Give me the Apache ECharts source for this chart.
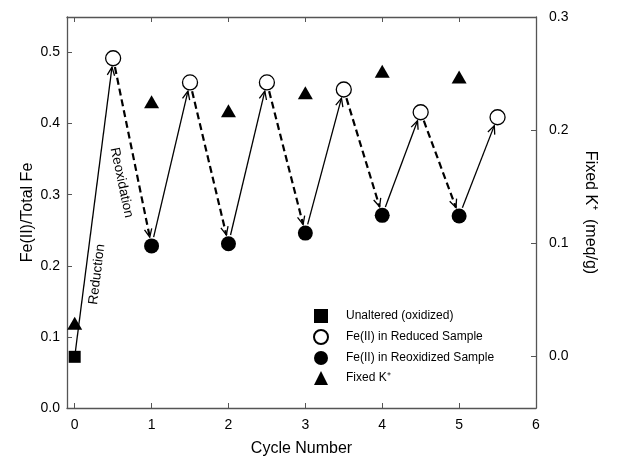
<!DOCTYPE html>
<html>
<head>
<meta charset="utf-8">
<title>Fe(II) cycles</title>
<script src="https://cdn.jsdelivr.net/npm/echarts@6/dist/echarts.min.js"></script>
<style>
  html, body { margin: 0; padding: 0; background: #fff; }
  #main { width: 617px; height: 462px; }
</style>
</head>
<body>
<div id="main"></div>
<script type="text/javascript">
// data
var unalteredX = [0];
var unalteredY = [0.072];
var reducedX = [0.5, 1.5, 2.5, 3.5, 4.5, 5.5];
var reducedY = [0.492, 0.458, 0.458, 0.448, 0.416, 0.409];
var reoxX = [1, 2, 3, 4, 5];
var reoxY = [0.228, 0.231, 0.246, 0.271, 0.270];
var fixedKX = [0, 1, 2, 3, 4, 5];
var fixedKY = [0.029, 0.225, 0.217, 0.233, 0.252, 0.247];

var xTicks = [0, 1, 2, 3, 4, 5, 6];
var leftTicks = [0, 0.1, 0.2, 0.3, 0.4, 0.5];
var rightTicks = [0, 0.1, 0.2, 0.3];

var noteText = ['Reduction', 'Reoxidation'];
var noteAt = [[0.29, 0.188, 83], [0.61, 0.317, -78]];

var FONT = 'Liberation Sans, Arial, sans-serif';
var AXIS_COLOR = '#555';

function pairs(xs, ys) {
    var out = [];
    for (var i = 0; i < xs.length; i++) out.push([xs[i], ys[i]]);
    return out;
}

// arrows: [x1, y1, x2, y2, dashed, startGap]
function buildArrows() {
    var a = [];
    a.push([unalteredX[0], unalteredY[0], reducedX[0], reducedY[0], 0, 0]);
    for (var i = 0; i < reoxX.length; i++) {
        a.push([reducedX[i], reducedY[i], reoxX[i], reoxY[i], 1, 9]);
        a.push([reoxX[i], reoxY[i], reducedX[i + 1], reducedY[i + 1], 0, 9]);
    }
    return a;
}

function renderArrow(params, api) {
    var p1 = api.coord([api.value(0), api.value(1)]);
    var p2 = api.coord([api.value(2), api.value(3)]);
    var dashed = api.value(4) === 1;
    var gap0 = api.value(5);
    var dx = p2[0] - p1[0], dy = p2[1] - p1[1];
    var len = Math.sqrt(dx * dx + dy * dy);
    var ux = dx / len, uy = dy / len;
    var sx = p1[0] + ux * gap0, sy = p1[1] + uy * gap0;
    var ex = p2[0] - ux * 9, ey = p2[1] - uy * 9;
    var head = 9, ang = 0.42;
    var ca = Math.cos(ang), sa = Math.sin(ang);
    var h1 = [ex - head * (ux * ca - uy * sa), ey - head * (uy * ca + ux * sa)];
    var h2 = [ex - head * (ux * ca + uy * sa), ey - head * (uy * ca - ux * sa)];
    return {
        type: 'group',
        children: [{
            type: 'line',
            shape: { x1: sx, y1: sy, x2: ex, y2: ey },
            style: { stroke: '#000', lineWidth: dashed ? 2.2 : 1.3, lineDash: dashed ? [7, 4] : null }
        }, {
            type: 'polyline',
            shape: { points: [h1, [ex, ey], h2] },
            style: { stroke: '#000', lineWidth: 1.3, fill: null }
        }]
    };
}

function renderNote(params, api) {
    var p = api.coord([api.value(0), api.value(1)]);
    return {
        type: 'text',
        x: p[0], y: p[1],
        rotation: api.value(2) * Math.PI / 180,
        style: {
            text: noteText[params.dataIndex],
            fontFamily: FONT, fontSize: 13.5, fill: '#000',
            align: 'center', verticalAlign: 'middle'
        }
    };
}

var myChart = echarts.init(document.getElementById('main'));
var option = {
    animation: false,
    backgroundColor: '#fff',
    textStyle: { fontFamily: FONT, color: '#000' },
    grid: { left: 67, right: 81, top: 17, bottom: 54, containLabel: false },
    legend: {
        orient: 'vertical',
        left: 308, top: 304,
        itemWidth: 14, itemHeight: 14, itemGap: 6,
        textStyle: { fontFamily: FONT, fontSize: 12, color: '#000', padding: [0, 0, 0, 13] },
        data: [
            { name: 'Unaltered (oxidized)', icon: 'rect' },
            { name: 'Fe(II) in Reduced Sample', icon: 'circle' },
            { name: 'Fe(II) in Reoxidized Sample', icon: 'circle' },
            { name: 'Fixed K\u207A', icon: 'triangle' }
        ]
    },
    xAxis: [{
        type: 'value', min: -0.1, max: 6, position: 'bottom',
        name: 'Cycle Number', nameLocation: 'middle', nameGap: 33,
        nameTextStyle: { fontFamily: FONT, fontSize: 16, color: '#000' },
        axisLine: { onZero: false, lineStyle: { color: AXIS_COLOR, width: 1.3 } },
        axisTick: { inside: true, length: 5, customValues: xTicks, lineStyle: { color: AXIS_COLOR } },
        axisLabel: { customValues: xTicks, margin: 10, fontSize: 14, color: '#000', fontFamily: FONT },
        splitLine: { show: false }
    }, {
        type: 'value', min: -0.1, max: 6, position: 'top',
        axisLine: { onZero: false, lineStyle: { color: AXIS_COLOR, width: 1.3 } },
        axisTick: { inside: true, length: 5, customValues: xTicks, lineStyle: { color: AXIS_COLOR } },
        axisLabel: { show: false },
        splitLine: { show: false }
    }],
    yAxis: [{
        type: 'value', min: 0, max: 0.55, position: 'left',
        name: 'Fe(II)/Total Fe', nameLocation: 'middle', nameGap: 31, nameRotate: 90,
        nameMoveOverlap: false,
        nameTextStyle: { fontFamily: FONT, fontSize: 16, color: '#000' },
        axisLine: { show: true, onZero: false, lineStyle: { color: AXIS_COLOR, width: 1.3 } },
        axisTick: { show: true, inside: true, length: 5, customValues: leftTicks, lineStyle: { color: AXIS_COLOR } },
        axisLabel: { customValues: leftTicks, margin: 7, fontSize: 14, color: '#000', fontFamily: FONT,
            formatter: function (v) { return v.toFixed(1); } },
        splitLine: { show: false }
    }, {
        type: 'value', min: -0.046, max: 0.3, position: 'right',
        name: 'Fixed K\u207A  (meq/g)', nameLocation: 'middle', nameGap: 46, nameRotate: -90,
        nameTextStyle: { fontFamily: FONT, fontSize: 16, color: '#000' },
        axisLine: { show: true, onZero: false, lineStyle: { color: AXIS_COLOR, width: 1.3 } },
        axisTick: { show: true, inside: true, length: 5, customValues: rightTicks, lineStyle: { color: AXIS_COLOR } },
        axisLabel: { customValues: rightTicks, margin: 13, fontSize: 14, color: '#000', fontFamily: FONT,
            formatter: function (v) { return v.toFixed(1); } },
        splitLine: { show: false }
    }],
    series: [{
        type: 'custom', name: 'arrows', silent: true, z: 1,
        renderItem: renderArrow,
        encode: { x: [0, 2], y: [1, 3] },
        data: buildArrows()
    }, {
        type: 'custom', name: 'notes', silent: true, z: 1,
        renderItem: renderNote,
        encode: { x: 0, y: 1 },
        data: noteAt
    }, {
        type: 'scatter', name: 'Unaltered (oxidized)', z: 3,
        symbol: 'rect', symbolSize: 12,
        itemStyle: { color: '#000', opacity: 1 },
        data: pairs(unalteredX, unalteredY)
    }, {
        type: 'scatter', name: 'Fe(II) in Reduced Sample', z: 3,
        symbol: 'circle', symbolSize: 15,
        itemStyle: { color: '#fff', borderColor: '#000', borderWidth: 1.3, opacity: 1 },
        data: pairs(reducedX, reducedY)
    }, {
        type: 'scatter', name: 'Fe(II) in Reoxidized Sample', z: 3,
        symbol: 'circle', symbolSize: 15,
        itemStyle: { color: '#000', opacity: 1 },
        data: pairs(reoxX, reoxY)
    }, {
        type: 'scatter', name: 'Fixed K\u207A', z: 3, yAxisIndex: 1,
        symbol: 'triangle', symbolSize: [15, 13],
        itemStyle: { color: '#000', opacity: 1 },
        data: pairs(fixedKX, fixedKY)
    }]
};
myChart.setOption(option);
</script>
</body>
</html>
